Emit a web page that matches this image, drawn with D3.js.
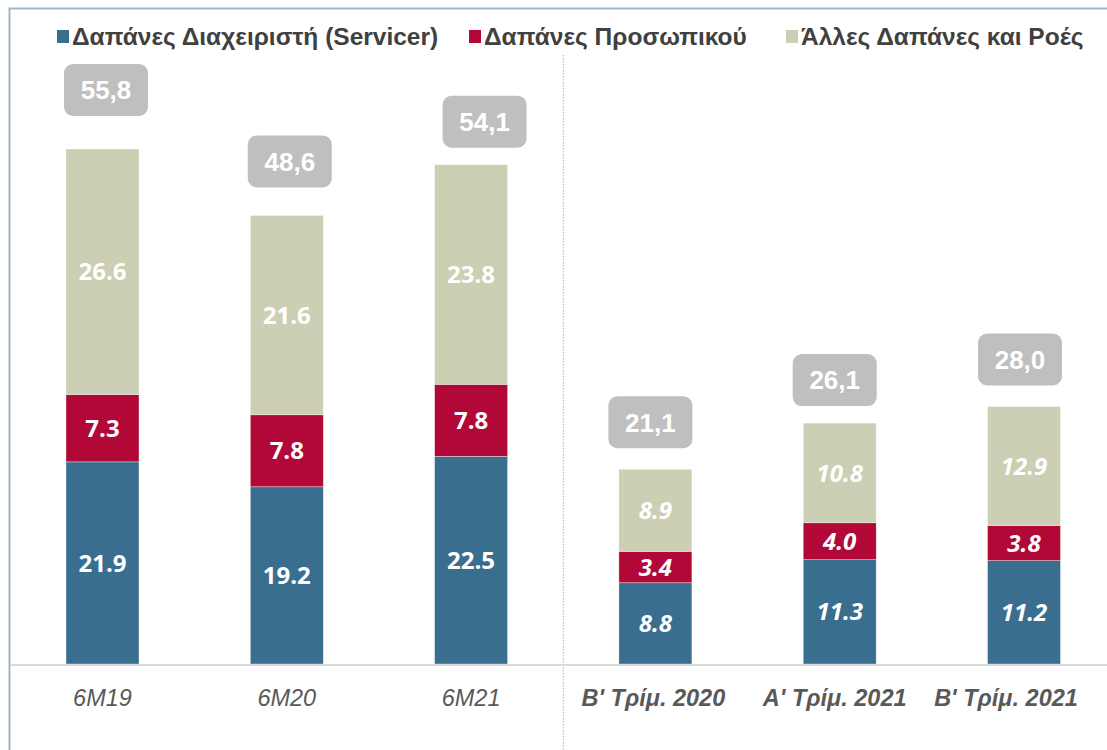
<!DOCTYPE html>
<html>
<head>
<meta charset="utf-8">
<script src="https://cdn.jsdelivr.net/npm/d3@7"></script>
<style>
  html, body { margin: 0; padding: 0; background: #fff; }
  svg { display: block; }
</style>
</head>
<body>
<svg id="chart" width="1107" height="750"></svg>
<script>
// Categories: half-year totals on the left, quarters on the right
const categories = ["6M19", "6M20", "6M21", "B' Τρίμ. 2020", "A' Τρίμ. 2021", "B' Τρίμ. 2021"];
const servicer  = [21.9, 19.2, 22.5, 8.8, 11.3, 11.2];
const personnel = [7.3, 7.8, 7.8, 3.4, 4.0, 3.8];
const other     = [26.6, 21.6, 23.8, 8.9, 10.8, 12.9];
const totalLabels = ["55,8", "48,6", "54,1", "21,1", "26,1", "28,0"];
const seriesNames = ["Δαπάνες Διαχειριστή (Servicer)", "Δαπάνες Προσωπικού", "Άλλες Δαπάνες και Ροές"];

const colors = ["#3a6e8f", "#b20838", "#cccfb3"];

// Hand-placed offsets for the total badges (dx, gap above the bar)
const badgeDx  = [3.5, 3, 13.5, -5, -5, -4];
const badgeGap = [33, 28, 17, 21, 17, 21];
// Horizontal nudges for category labels
const catDx = [0, 0, 0, -2, -5, -18];

const svg = d3.select("#chart");

const x = d3.scaleBand()
  .domain(categories)
  .range([10.35, 1116.15])
  .paddingInner(0.604)
  .paddingOuter(0.302);

const y = d3.scaleLinear()
  .domain([0, 55.8])
  .range([664, 149]);

// Frame
svg.append("rect")
  .attr("x", 9.5).attr("y", 8.5)
  .attr("width", 1200).attr("height", 800)
  .attr("fill", "none")
  .attr("stroke", "#9db4c4")
  .attr("stroke-width", 2);

// Divider between half-years and quarters
const divX = x.range()[0] + 3 * x.step();
svg.append("line")
  .attr("x1", divX).attr("x2", divX)
  .attr("y1", 55).attr("y2", 750)
  .attr("stroke", "#b0b0b0")
  .attr("stroke-width", 1)
  .attr("stroke-dasharray", "1.5,1.5");

// Stack the three series
const rows = categories.map((c, i) => ({ cat: c, s0: servicer[i], s1: personnel[i], s2: other[i] }));
const stack = d3.stack().keys(["s0", "s1", "s2"]);
const layers = stack(rows);

const g = svg.append("g");
layers.forEach((layer, li) => {
  g.selectAll(null)
    .data(layer)
    .join("rect")
    .attr("x", d => x(d.data.cat))
    .attr("width", x.bandwidth())
    .attr("y", d => y(d[1]))
    .attr("height", d => y(d[0]) - y(d[1]))
    .attr("fill", colors[li])
    .attr("stroke", "#ffffff")
    .attr("stroke-width", 0.6)
    .attr("stroke-opacity", 0.6);

  g.selectAll(null)
    .data(layer)
    .join("text")
    .attr("x", d => x(d.data.cat) + x.bandwidth() / 2)
    .attr("y", d => (y(d[0]) + y(d[1])) / 2)
    .attr("dy", "0.36em")
    .attr("text-anchor", "middle")
    .attr("fill", "#ffffff")
    .attr("font-family", "'Open Sans', sans-serif")
    .attr("font-weight", 700)
    .attr("font-style", (d, i) => i >= 3 ? "italic" : "normal")
    .attr("font-size", 24)
    .text(d => (d[1] - d[0]).toFixed(1));
});

// Baseline
svg.append("line")
  .attr("x1", 10).attr("x2", 1107)
  .attr("y1", y(0) + 1).attr("y2", y(0) + 1)
  .attr("stroke", "#d9d9d9")
  .attr("stroke-width", 2);

// Total badges
const totals = categories.map((c, i) => servicer[i] + personnel[i] + other[i]);
const bw = 84, bh = 52;
const badges = svg.append("g").selectAll("g")
  .data(categories)
  .join("g")
  .attr("transform", (c, i) => {
    const cx = x(c) + x.bandwidth() / 2 + badgeDx[i];
    const bottom = y(totals[i]) - badgeGap[i];
    return `translate(${cx},${bottom - bh / 2})`;
  });
badges.append("rect")
  .attr("x", -bw / 2).attr("y", -bh / 2)
  .attr("width", bw).attr("height", bh)
  .attr("rx", 9).attr("ry", 9)
  .attr("fill", "#bfbfbf");
badges.append("text")
  .attr("text-anchor", "middle")
  .attr("dy", "0.36em")
  .attr("fill", "#ffffff")
  .attr("font-family", "'Liberation Sans', Arial, sans-serif")
  .attr("font-weight", 700)
  .attr("font-size", 26)
  .text((c, i) => totalLabels[i]);

// Category labels
svg.append("g").selectAll("text")
  .data(categories)
  .join("text")
  .attr("x", (c, i) => x(c) + x.bandwidth() / 2 + catDx[i])
  .attr("y", 706)
  .attr("text-anchor", "middle")
  .attr("fill", "#595959")
  .attr("font-family", "'Liberation Sans', Arial, sans-serif")
  .attr("font-style", "italic")
  .attr("font-weight", (c, i) => i >= 3 ? 700 : 400)
  .attr("font-size", 23.5)
  .text(c => c);

// Legend
const legendX = [57, 469, 786];
const legend = svg.append("g").selectAll("g")
  .data(seriesNames)
  .join("g")
  .attr("transform", (d, i) => `translate(${legendX[i]},0)`);
legend.append("rect")
  .attr("x", 0).attr("y", 30)
  .attr("width", 12).attr("height", 13)
  .attr("fill", (d, i) => colors[i]);
legend.append("text")
  .attr("x", 15).attr("y", 45)
  .attr("fill", "#404040")
  .attr("font-family", "'Liberation Sans', Arial, sans-serif")
  .attr("font-weight", 700)
  .attr("font-size", 24.5)
  .text(d => d);
</script>
</body>
</html>
